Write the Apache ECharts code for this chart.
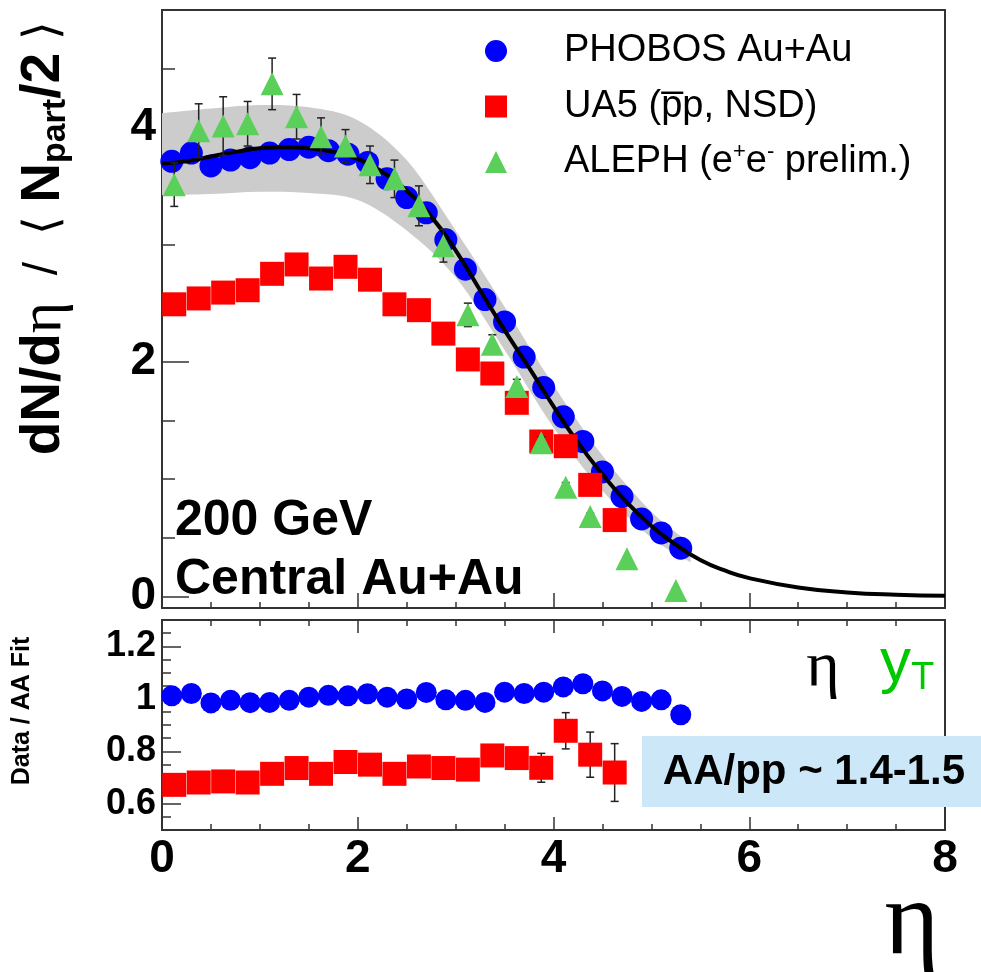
<!DOCTYPE html>
<html><head><meta charset="utf-8">
<script src="https://cdn.jsdelivr.net/npm/echarts@6/dist/echarts.min.js"></script>
<style>html,body{margin:0;padding:0;background:#fff}#c{width:981px;height:972px}</style>
</head><body><div id="c"></div>
<script>
// ---- data ----
const phobosEta = [0.1,0.3,0.5,0.7,0.9,1.1,1.3,1.5,1.7,1.9,2.1,2.3,2.5,2.7,2.9,3.1,3.3,3.5,3.7,3.9,4.1,4.3,4.5,4.7,4.9,5.1,5.3];
const phobosVal = [3.71,3.78,3.67,3.72,3.74,3.78,3.81,3.83,3.80,3.77,3.70,3.56,3.40,3.27,3.04,2.79,2.53,2.34,2.04,1.78,1.53,1.32,1.06,0.85,0.66,0.54,0.41];
const phobosRatio = [1.011,1.020,0.984,0.994,0.985,0.986,0.994,1.006,1.013,1.011,1.019,1.006,0.999,1.024,0.996,0.994,0.986,1.025,1.020,1.025,1.045,1.057,1.030,1.009,0.990,0.996,0.939];

const ua5Eta = [0.125,0.375,0.625,0.875,1.125,1.375,1.625,1.875,2.125,2.375,2.625,2.875,3.125,3.375,3.625,3.875,4.125,4.375,4.625];
const ua5Val = [2.49,2.54,2.59,2.61,2.75,2.83,2.71,2.81,2.70,2.49,2.44,2.24,2.02,1.90,1.65,1.32,1.28,0.95,0.65];
const ua5Ratio = [0.672,0.681,0.685,0.681,0.714,0.736,0.714,0.759,0.749,0.714,0.742,0.736,0.730,0.784,0.774,0.737,0.878,0.787,0.719];
const ua5RatioErr = [0.02,0.02,0.02,0.02,0.02,0.02,0.02,0.02,0.02,0.02,0.02,0.025,0.025,0.03,0.035,0.055,0.069,0.086,0.11];

const alephEta = [0.125,0.375,0.625,0.875,1.125,1.375,1.625,1.875,2.125,2.375,2.625,2.875,3.125,3.375,3.625,3.875,4.125,4.375,4.75,5.25];
const alephVal = [3.51,3.97,4.01,4.03,4.37,4.09,3.92,3.84,3.68,3.56,3.33,2.99,2.40,2.15,1.79,1.31,0.93,0.68,0.32,0.05];
const alephErr = [0.185,0.23,0.25,0.19,0.22,0.19,0.16,0.14,0.16,0.16,0.17,0.14,0.10,0.08,0.06,0.05,0.04,0.03,0.02,0.01];

const fitEta = [0,0.25,0.5,0.75,1,1.25,1.5,1.75,2,2.25,2.5,2.75,3,3.25,3.5,3.75,4,4.25,4.5,4.75,5,5.25,5.5,5.75,6,6.5,7,7.5,8];
const fitVal = [3.69,3.71,3.75,3.79,3.82,3.83,3.82,3.79,3.73,3.62,3.46,3.24,2.95,2.61,2.27,1.95,1.62,1.31,1.04,0.80,0.60,0.44,0.31,0.22,0.155,0.075,0.033,0.013,0.005];

const bandEta = [0,0.5,1,1.5,2,2.5,3,3.5,4,4.5,5,5.4];
const bandUpper = [4.12,4.16,4.19,4.17,4.06,3.72,3.12,2.47,1.80,1.20,0.72,0.45];
const bandLower = [3.42,3.43,3.45,3.44,3.38,3.12,2.72,2.10,1.44,0.90,0.50,0.29];

const yTopTicks = [0,2,4];
const yTopMinor = [0.5,1,1.5,2.5,3,3.5,4.5];
const yBotTicks = [0.6,0.8,1.0,1.2];
const yBotMinor = [0.55,0.65,0.7,0.75,0.85,0.9,0.95,1.05,1.1,1.15,1.25];

// ---- helpers ----
const pairs = (xs, ys) => xs.map((x, i) => [x, ys[i]]);
const triples = (xs, ys, es) => xs.map((x, i) => [x, ys[i], es[i]]);
function errRender(params, api) {
  const x = api.value(0), y = api.value(1), e = api.value(2);
  const t = api.coord([x, y + e]), b = api.coord([x, y - e]);
  const c = 4, st = {stroke: '#222', lineWidth: 1.5};
  return {type: 'group', children: [
    {type: 'line', shape: {x1: t[0], y1: t[1], x2: b[0], y2: b[1]}, style: st},
    {type: 'line', shape: {x1: t[0] - c, y1: t[1], x2: t[0] + c, y2: t[1]}, style: st},
    {type: 'line', shape: {x1: b[0] - c, y1: b[1], x2: b[0] + c, y2: b[1]}, style: st}
  ]};
}
// smooth (Catmull-Rom) path segment through pixel points
function crPath(pts, moveFirst) {
  let d = (moveFirst ? 'M' : 'L') + pts[0][0].toFixed(2) + ',' + pts[0][1].toFixed(2);
  for (let i = 0; i < pts.length - 1; i++) {
    const p0 = pts[i - 1] || pts[i], p1 = pts[i], p2 = pts[i + 1], p3 = pts[i + 2] || pts[i + 1];
    const c1 = [p1[0] + (p2[0] - p0[0]) / 6, p1[1] + (p2[1] - p0[1]) / 6];
    const c2 = [p2[0] - (p3[0] - p1[0]) / 6, p2[1] - (p3[1] - p1[1]) / 6];
    d += 'C' + c1[0].toFixed(2) + ',' + c1[1].toFixed(2) + ' ' + c2[0].toFixed(2) + ',' + c2[1].toFixed(2) + ' ' + p2[0].toFixed(2) + ',' + p2[1].toFixed(2);
  }
  return d;
}
function bandRender(params, api) {
  if (params.dataIndex !== 0) return null;
  const up = bandEta.map((x, i) => api.coord([x, bandUpper[i]]));
  const lo = bandEta.map((x, i) => api.coord([x, bandLower[i]])).reverse();
  const d = crPath(up, true) + crPath(lo, false) + 'Z';
  return {type: 'path', shape: {pathData: d}, style: {fill: '#cccccc', stroke: 'none'}};
}
const AX = '#333';
const FONT = 'Liberation Sans, Arial, sans-serif';
const SERIF = 'Liberation Serif, Times New Roman, serif';

function xAxisBase(grid, extra) {
  return Object.assign({
    gridIndex: grid, type: 'value', min: 0, max: 8, interval: 2,
    axisLine: {show: true, onZero: false, lineStyle: {color: AX, width: 2}},
    axisTick: {show: true, inside: true, length: 13, lineStyle: {color: AX, width: 1.5}},
    minorTick: {show: true, splitNumber: 4, length: 6, lineStyle: {color: AX, width: 1.5}},
    axisLabel: {show: false},
    splitLine: {show: false}, minorSplitLine: {show: false}
  }, extra || {});
}
function yAxisBase(grid, min, max, ticks, len, labels, fs) {
  return {
    gridIndex: grid, type: 'value', min: min, max: max, position: 'left',
    axisLine: {show: true, onZero: false, lineStyle: {color: AX, width: 2}},
    axisTick: {show: true, inside: true, length: len, customValues: ticks, lineStyle: {color: AX, width: 1.5}},
    axisLabel: labels ? {show: true, customValues: ticks, fontFamily: FONT, fontWeight: 'bold', fontSize: fs, color: '#000', margin: 6} : {show: false},
    splitLine: {show: false}
  };
}

const chart = echarts.init(document.getElementById('c'), null, {renderer: 'canvas'});
const option = {
  animation: false,
  backgroundColor: '#fff',
  grid: [
    {left: 162, top: 10, width: 783, height: 598, show: true, borderColor: AX, borderWidth: 2, backgroundColor: 'transparent'},
    {left: 162, top: 620, width: 783, height: 210, show: true, borderColor: AX, borderWidth: 2, backgroundColor: 'transparent'}
  ],
  xAxis: [
    xAxisBase(0, {axisTick: {show: true, inside: true, length: 15, lineStyle: {color: AX, width: 1.5}}}),
    xAxisBase(1, {axisLabel: {show: true, fontFamily: FONT, fontWeight: 'bold', fontSize: 46, color: '#000', margin: 6}}),
    xAxisBase(1, {position: 'top', axisLine: {show: false}})
  ],
  yAxis: [
    yAxisBase(0, -0.1, 5, yTopTicks, 27, true, 46),
    yAxisBase(0, -0.1, 5, yTopMinor, 13, false),
    yAxisBase(1, 0.5, 1.3, yBotTicks, 19, true, 36),
    yAxisBase(1, 0.5, 1.3, yBotMinor, 9, false)
  ],
  legend: {
    orient: 'vertical', left: 480, top: 25, itemWidth: 22, itemHeight: 22, itemGap: 13.5,
    selectedMode: false,
    data: [{name: 'PHOBOS Au+Au', icon: 'circle'}, {name: 'UA5', icon: 'rect'}, {name: 'ALEPH', icon: 'triangle'}],
    formatter: function (n) {
      if (n === 'UA5') return 'UA5 (p\u0305p, NSD)';
      if (n === 'ALEPH') return 'ALEPH (e{sup|+}e{sup|-} prelim.)';
      return n;
    },
    textStyle: {fontFamily: FONT, fontSize: 38, color: '#000', lineHeight: 42, padding: [0, 0, 0, 52],
      rich: {sup: {fontFamily: FONT, fontSize: 22, color: '#000', lineHeight: 22, padding: [0, 0, 20, 0]}}}
  },
  series: [
    {type: 'custom', xAxisIndex: 0, yAxisIndex: 0, data: bandEta.map((x, i) => [x, bandLower[i], bandUpper[i]]),
      renderItem: bandRender, encode: {x: 0, y: [1, 2]}, silent: true, z: 1},
    {name: 'PHOBOS Au+Au', type: 'scatter', xAxisIndex: 0, yAxisIndex: 0, data: pairs(phobosEta, phobosVal),
      symbol: 'circle', symbolSize: 23, itemStyle: {color: '#0000ff', opacity: 1}, z: 2},
    {type: 'line', xAxisIndex: 0, yAxisIndex: 0, data: pairs(fitEta, fitVal), smooth: true, symbol: 'none',
      lineStyle: {color: '#000', width: 4}, z: 3},
    {name: 'UA5', type: 'scatter', xAxisIndex: 0, yAxisIndex: 0, data: pairs(ua5Eta, ua5Val),
      symbol: 'rect', symbolSize: 24, itemStyle: {color: '#ff0000', opacity: 1}, z: 4},
    {type: 'custom', xAxisIndex: 0, yAxisIndex: 0, data: triples(alephEta, alephVal, alephErr), renderItem: errRender,
      encode: {x: 0, y: 1}, z: 5, silent: true},
    {name: 'ALEPH', type: 'scatter', xAxisIndex: 0, yAxisIndex: 0, data: pairs(alephEta, alephVal),
      symbol: 'triangle', symbolSize: 23, itemStyle: {color: '#5ad05a', opacity: 1}, z: 6},

    {name: 'PHOBOS Au+Au', type: 'scatter', xAxisIndex: 1, yAxisIndex: 2, data: pairs(phobosEta, phobosRatio),
      symbol: 'circle', symbolSize: 21, itemStyle: {color: '#0000ff', opacity: 1}, z: 2},
    {type: 'custom', xAxisIndex: 1, yAxisIndex: 2, data: triples(ua5Eta, ua5Ratio, ua5RatioErr), renderItem: errRender,
      encode: {x: 0, y: 1}, z: 3, silent: true},
    {name: 'UA5', type: 'scatter', xAxisIndex: 1, yAxisIndex: 2, data: pairs(ua5Eta, ua5Ratio),
      symbol: 'rect', symbolSize: 24, itemStyle: {color: '#ff0000', opacity: 1}, z: 4}
  ],
  graphic: [
    {type: 'text', x: 44, y: 238, rotation: Math.PI / 2, z: 100, style: {
      text: '{b|dN/d}{e|\u03b7}{n|  /  \u27e8 }{b|N}{s|part}{b|/2}{n| \u27e9}',
      align: 'center', verticalAlign: 'middle', textAlign: 'center', textVerticalAlign: 'middle',
      rich: {
        b: {fontFamily: FONT, fontWeight: 'bold', fontSize: 55, fill: '#000', color: '#000'},
        e: {fontFamily: SERIF, fontSize: 60, fill: '#000', color: '#000'},
        n: {fontFamily: FONT, fontSize: 48, fill: '#000', color: '#000'},
        s: {fontFamily: FONT, fontWeight: 'bold', fontSize: 34, fill: '#000', color: '#000', padding: [24, 0, 0, 0]}
      }}},
    {type: 'text', x: 22, y: 711, rotation: Math.PI / 2, z: 100, style: {
      text: 'Data / AA Fit', font: 'bold 25px ' + FONT, fill: '#000',
      align: 'center', verticalAlign: 'middle', textAlign: 'center', textVerticalAlign: 'middle'}},
    {type: 'text', x: 175, y: 521, z: 100, style: {text: '200 GeV', font: 'bold 50px ' + FONT, fill: '#000',
      align: 'left', verticalAlign: 'middle', textAlign: 'left', textVerticalAlign: 'middle'}},
    {type: 'text', x: 175, y: 580, z: 100, style: {text: 'Central Au+Au', font: 'bold 50px ' + FONT, fill: '#000',
      align: 'left', verticalAlign: 'middle', textAlign: 'left', textVerticalAlign: 'middle'}},
    {type: 'text', x: 823, y: 668, z: 100, style: {text: '\u03b7', font: '64px ' + SERIF, fill: '#000',
      align: 'center', verticalAlign: 'middle', textAlign: 'center', textVerticalAlign: 'middle'}},
    {type: 'text', x: 880, y: 664, z: 100, style: {text: 'y{t|T}', font: '62px ' + FONT, fill: '#00c800',
      align: 'left', verticalAlign: 'middle', textAlign: 'left', textVerticalAlign: 'middle',
      rich: {t: {fontFamily: FONT, fontSize: 38, fill: '#00c800', color: '#00c800', padding: [30, 0, 0, 0]}}}},
    {type: 'rect', z: 100, shape: {x: 642, y: 736, width: 339, height: 71}, style: {fill: '#cce8f8'}},
    {type: 'text', x: 814, y: 772, z: 101, style: {text: 'AA/pp ~ 1.4-1.5', font: 'bold 42px ' + FONT, fill: '#000',
      align: 'center', verticalAlign: 'middle', textAlign: 'center', textVerticalAlign: 'middle'}},
    {type: 'text', x: 912, y: 925, z: 100, style: {text: '\u03b7', font: '105px ' + SERIF, fill: '#000',
      align: 'center', verticalAlign: 'middle', textAlign: 'center', textVerticalAlign: 'middle'}}
  ]
};
chart.setOption(option);
</script></body></html>
